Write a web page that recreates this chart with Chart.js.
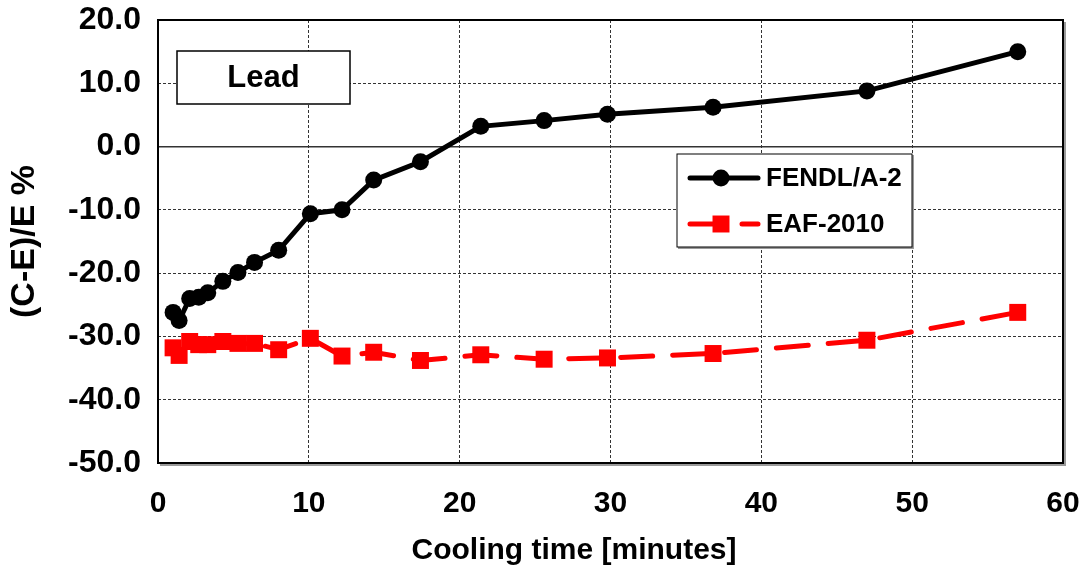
<!DOCTYPE html>
<html>
<head>
<meta charset="utf-8">
<title>Lead - (C-E)/E</title>
<script src="https://cdn.jsdelivr.net/npm/chart.js@4.4.0/dist/chart.umd.min.js"></script>
<style>
  html, body { margin: 0; padding: 0; background: #fff; }
  #chart { display: block; }
</style>
</head>
<body>
<canvas id="chart" width="1083" height="574"></canvas>
<script>
// cooling times [min] and (C-E)/E deviations [%] for both libraries
const coolingTime = [1.0, 1.4, 2.1, 2.7, 3.3, 4.3, 5.3, 6.4, 8.0, 10.1, 12.2, 14.3, 17.4, 21.4, 25.6, 29.8, 36.8, 47.0, 57.0];
const fendlA2 = [-26.2, -27.5, -24.0, -23.8, -23.1, -21.3, -19.9, -18.3, -16.4, -10.6, -10.0, -5.3, -2.4, 3.2, 4.1, 5.1, 6.2, 8.8, 15.0];
const eaf2010 = [-31.8, -33.0, -30.8, -31.3, -31.3, -30.8, -31.1, -31.1, -32.1, -30.3, -33.1, -32.5, -33.8, -32.9, -33.6, -33.4, -32.7, -30.6, -26.2];

const xTickValues = [0, 10, 20, 30, 40, 50, 60];
const yTickValues = [-50, -40, -30, -20, -10, 0, 10, 20];

const FONT = "'Liberation Sans', Arial, sans-serif";
const boldFont = size => ({ family: FONT, size: size, weight: 'bold' });

const toPoints = ys => ys.map((y, i) => ({ x: coolingTime[i], y: y }));

// frame, "Lead" label, legend box and x title
const decorations = {
    id: 'decorations',
    afterDraw(chart) {
        const { ctx, chartArea: a } = chart;
        ctx.save();

        // plot frame with a light shadow
        ctx.strokeStyle = '#9a9a9a';
        ctx.lineWidth = 2;
        ctx.beginPath();
        ctx.moveTo(a.right + 2, a.top + 2);
        ctx.lineTo(a.right + 2, a.bottom + 2);
        ctx.lineTo(a.left + 2, a.bottom + 2);
        ctx.stroke();
        ctx.strokeStyle = '#000';
        ctx.strokeRect(a.left, a.top, a.right - a.left, a.bottom - a.top);

        // "Lead" box
        const bx = a.left + 19, by = a.top + 31, bw = 173, bh = 53;
        ctx.fillStyle = '#fff';
        ctx.fillRect(bx, by, bw, bh);
        ctx.lineWidth = 1.5;
        ctx.strokeStyle = '#000';
        ctx.strokeRect(bx, by, bw, bh);
        ctx.fillStyle = '#000';
        ctx.font = `bold 31px ${FONT}`;
        ctx.textAlign = 'center';
        ctx.textBaseline = 'middle';
        ctx.fillText('Lead', bx + bw / 2, by + bh / 2 + 1);

        // legend
        const lx = a.left + 519, ly = a.top + 134, lw = 235, lh = 93;
        ctx.fillStyle = '#fff';
        ctx.fillRect(lx, ly, lw, lh);
        ctx.strokeStyle = '#9a9a9a';
        ctx.lineWidth = 2;
        ctx.beginPath();
        ctx.moveTo(lx + lw + 1, ly + 1);
        ctx.lineTo(lx + lw + 1, ly + lh + 1);
        ctx.lineTo(lx + 1, ly + lh + 1);
        ctx.stroke();
        ctx.strokeStyle = '#000';
        ctx.lineWidth = 1;
        ctx.strokeRect(lx, ly, lw, lh);

        chart.data.datasets.forEach((ds, i) => {
            const rowY = ly + 24 + i * 46;
            ctx.strokeStyle = ds.borderColor;
            ctx.lineWidth = ds.borderWidth;
            ctx.lineCap = 'round';
            ctx.setLineDash(ds.borderDash || []);
            ctx.beginPath();
            ctx.moveTo(lx + 13, rowY);
            ctx.lineTo(lx + 81, rowY);
            ctx.stroke();
            ctx.setLineDash([]);
            ctx.fillStyle = ds.pointBackgroundColor;
            Chart.helpers.drawPoint(ctx, {
                pointStyle: ds.pointStyle,
                radius: ds.pointRadius,
                rotation: 0,
                borderWidth: 0
            }, lx + 44, rowY);
            ctx.fillStyle = '#000';
            ctx.font = `bold 26px ${FONT}`;
            ctx.textAlign = 'left';
            ctx.textBaseline = 'middle';
            ctx.fillText(ds.label, lx + 89, rowY + 1);
        });

        // x axis title
        ctx.fillStyle = '#000';
        ctx.font = `bold 30px ${FONT}`;
        ctx.textAlign = 'center';
        ctx.textBaseline = 'middle';
        ctx.fillText('Cooling time [minutes]', a.left + 416, a.bottom + 88);

        ctx.restore();
    }
};

const gridDash = c => (c.tick && c.tick.value === 0) ? [] : [3, 2];

const ctx = document.getElementById('chart');
const chart = new Chart(ctx, {
    type: 'line',
    data: {
        datasets: [{
            label: 'FENDL/A-2',
            data: toPoints(fendlA2),
            borderColor: '#000',
            backgroundColor: '#000',
            pointBackgroundColor: '#000',
            borderWidth: 5,
            pointStyle: 'circle',
            pointRadius: 8.5,
            pointBorderWidth: 0,
            tension: 0
        }, {
            label: 'EAF-2010',
            data: toPoints(eaf2010),
            borderColor: '#ff0000',
            backgroundColor: '#ff0000',
            pointBackgroundColor: '#ff0000',
            borderWidth: 5,
            borderDash: [32, 20],
            borderCapStyle: 'round',
            pointStyle: 'rect',
            pointRadius: 12,
            pointBorderWidth: 0,
            tension: 0
        }]
    },
    options: {
        responsive: false,
        animation: false,
        devicePixelRatio: 1,
        layout: { padding: { top: 20, right: 20, left: 0, bottom: 0 } },
        plugins: {
            legend: { display: false },
            tooltip: { enabled: false }
        },
        scales: {
            x: {
                type: 'linear',
                min: 0,
                max: 60,
                afterBuildTicks: s => { s.ticks = xTickValues.map(v => ({ value: v })); },
                // fixed axis band, no extra room for end labels
                afterFit: s => { s.height = 111; s.paddingLeft = 0; s.paddingRight = 0; },
                grid: { color: '#333', lineWidth: 1, drawTicks: false },
                border: { display: false, dash: gridDash },
                ticks: {
                    padding: 23,
                    color: '#000',
                    maxRotation: 0,
                    autoSkip: false,
                    font: boldFont(30),
                    callback: v => String(v)
                }
            },
            y: {
                min: -50,
                max: 20,
                afterBuildTicks: s => { s.ticks = yTickValues.map(v => ({ value: v })); },
                afterFit: s => { s.width = 158; s.paddingTop = 0; s.paddingBottom = 0; },
                grid: {
                    color: '#333',
                    lineWidth: c => (c.tick && c.tick.value === 0) ? 1.5 : 1,
                    drawTicks: false
                },
                border: { display: false, dash: gridDash },
                ticks: {
                    padding: 17,
                    color: '#000',
                    font: boldFont(32),
                    callback: v => v.toFixed(1)
                },
                title: {
                    display: true,
                    text: '(C-E)/E %',
                    color: '#000',
                    font: boldFont(34),
                    padding: { top: 4, bottom: 0 }
                }
            }
        }
    },
    plugins: [decorations]
});
</script>
</body>
</html>
